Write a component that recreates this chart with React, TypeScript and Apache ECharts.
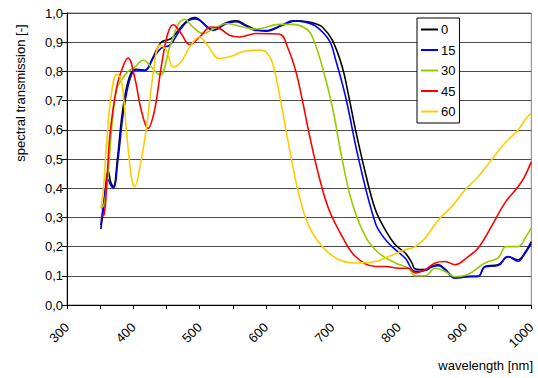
import React, { useEffect, useRef } from "react";
import * as echarts from "echarts";

const xTicks = [300, 400, 500, 600, 700, 800, 900, 1000];
const legendNames = ["0", "15", "30", "45", "60"];
const colors = ["#000000", "#0000FF", "#99CC00", "#FF0000", "#FFCC00"];

const s0: number[][] = [
  [351, 0.26], [355, 0.33], [358, 0.40], [362, 0.46], [366, 0.42], [370, 0.405], [376, 0.5], [384, 0.667],
  [394, 0.78], [404, 0.807], [417, 0.804], [430, 0.85], [442, 0.9], [457, 0.912], [470, 0.947], [482, 0.975],
  [492, 0.984], [498, 0.98], [512, 0.952], [520, 0.943], [539, 0.966], [555, 0.973], [570, 0.958], [585, 0.943],
  [600, 0.938], [625, 0.958], [645, 0.973], [665, 0.969], [675, 0.963], [685, 0.952], [700, 0.907], [715, 0.815],
  [725, 0.713], [735, 0.6], [750, 0.451], [765, 0.326], [780, 0.257], [795, 0.206], [810, 0.178], [820, 0.144],
  [825, 0.123], [840, 0.121], [850, 0.132], [860, 0.138], [870, 0.123], [880, 0.1], [885, 0.095], [905, 0.098],
  [920, 0.098], [930, 0.132], [950, 0.138], [965, 0.166], [980, 0.155], [990, 0.178], [1000, 0.217],
];
const s15: number[][] = [
  [351, 0.274], [356, 0.36], [362, 0.43], [366, 0.41], [370, 0.4], [377, 0.5], [385, 0.66], [395, 0.775],
  [404, 0.805], [417, 0.803], [430, 0.845], [442, 0.88], [455, 0.89], [470, 0.94], [482, 0.972], [492, 0.98],
  [500, 0.975], [512, 0.95], [520, 0.94], [540, 0.963], [555, 0.97], [570, 0.955], [585, 0.94], [600, 0.94],
  [625, 0.96], [640, 0.973], [660, 0.968], [675, 0.955], [695, 0.907], [705, 0.84], [720, 0.713], [740, 0.497],
  [765, 0.28], [778, 0.23], [790, 0.2], [810, 0.16], [825, 0.115], [840, 0.118], [850, 0.13], [860, 0.135],
  [870, 0.12], [885, 0.092], [905, 0.097], [920, 0.098], [930, 0.13], [950, 0.135], [965, 0.165], [980, 0.15],
  [990, 0.175], [1000, 0.21],
];
const s30: number[][] = [
  [351, 0.331], [356, 0.345], [362, 0.45], [368, 0.62], [375, 0.74], [382, 0.77], [392, 0.8], [400, 0.81],
  [415, 0.838], [427, 0.815], [440, 0.787], [455, 0.884], [467, 0.958], [477, 0.978], [490, 0.952], [505, 0.93],
  [522, 0.947], [540, 0.964], [565, 0.952], [585, 0.945], [620, 0.961], [640, 0.961], [660, 0.947], [670, 0.918],
  [685, 0.815], [700, 0.679], [715, 0.497], [730, 0.349], [750, 0.234], [770, 0.178], [795, 0.144], [815, 0.126],
  [825, 0.1], [840, 0.1], [855, 0.126], [870, 0.115], [885, 0.097], [905, 0.105], [930, 0.144], [950, 0.161],
  [962, 0.2], [980, 0.2], [992, 0.234], [1000, 0.264],
];
const s45: number[][] = [
  [351, 0.303], [356, 0.31], [360, 0.42], [365, 0.588], [375, 0.747], [385, 0.82], [392, 0.846], [402, 0.78],
  [412, 0.667], [422, 0.605], [432, 0.667], [442, 0.815], [452, 0.93], [460, 0.96], [472, 0.93], [485, 0.892],
  [500, 0.918], [517, 0.952], [527, 0.95], [545, 0.924], [560, 0.918], [585, 0.93], [620, 0.928], [633, 0.88],
  [645, 0.8], [655, 0.7], [665, 0.588], [680, 0.44], [695, 0.326], [715, 0.234], [735, 0.166], [765, 0.132],
  [780, 0.132], [800, 0.126], [815, 0.126], [825, 0.11], [840, 0.121], [855, 0.144], [870, 0.149], [885, 0.138],
  [905, 0.166], [920, 0.195], [940, 0.269], [960, 0.349], [980, 0.405], [990, 0.44], [1000, 0.49],
];
const s60: number[][] = [
  [351, 0.332], [355, 0.4], [360, 0.565], [367, 0.724], [375, 0.79], [382, 0.77], [390, 0.588], [397, 0.44],
  [402, 0.405], [410, 0.474], [420, 0.61], [430, 0.793], [440, 0.89], [450, 0.873], [460, 0.815], [472, 0.833],
  [485, 0.884], [500, 0.918], [510, 0.895], [530, 0.844], [545, 0.85], [565, 0.867], [590, 0.873], [600, 0.867],
  [610, 0.827], [622, 0.7], [635, 0.54], [650, 0.375], [665, 0.269], [685, 0.2], [710, 0.155], [735, 0.144],
  [765, 0.149], [785, 0.166], [810, 0.189], [825, 0.2], [840, 0.229], [860, 0.292], [880, 0.337], [900, 0.394],
  [920, 0.44], [940, 0.497], [960, 0.554], [980, 0.599], [992, 0.639], [1000, 0.656],
];
const seriesData = [s0, s15, s30, s45, s60];

const FONT = "Liberation Sans, Arial, sans-serif";

export default function App() {
  const ref = useRef<HTMLDivElement>(null);
  useEffect(() => {
    if (!ref.current) return;
    const chart = echarts.init(ref.current, undefined, { renderer: "svg" });
    chart.setOption({
      animation: false,
      backgroundColor: "#ffffff",
      textStyle: { fontFamily: FONT },
      grid: { left: 67, right: 5, top: 13, bottom: 73, show: true, borderColor: "#808080", borderWidth: 1 },
      legend: {
        data: legendNames,
        orient: "vertical",
        left: 417,
        top: 18,
        width: 44,
        padding: [5, 4, 5, 4],
        itemGap: 7.5,
        itemWidth: 17,
        itemHeight: 2,
        icon: "rect",
        borderColor: "#000000",
        borderWidth: 1,
        backgroundColor: "#ffffff",
        textStyle: { fontSize: 13, color: "#000", fontFamily: FONT, padding: [0, 0, 0, -2] },
      },
      xAxis: {
        type: "value",
        min: 300,
        max: 1000,
        interval: 50,
        axisLine: { show: true, onZero: false, lineStyle: { color: "#000", width: 1 } },
        axisTick: { show: true, length: 4, lineStyle: { color: "#000" } },
        splitLine: { show: false },
        axisLabel: {
          rotate: 45,
          margin: 20,
          fontSize: 13,
          color: "#000",
          fontFamily: FONT,
          formatter: (v: number) => (xTicks.includes(v) ? String(v) : ""),
        },
      },
      yAxis: {
        type: "value",
        min: 0,
        max: 1,
        interval: 0.1,
        axisLine: { show: true, lineStyle: { color: "#000", width: 1 } },
        axisTick: { show: true, length: 5, lineStyle: { color: "#000" } },
        splitLine: { show: true, lineStyle: { color: "#4d4d4d", width: 1 } },
        axisLabel: {
          margin: 4,
          fontSize: 13,
          color: "#000",
          fontFamily: FONT,
          formatter: (v: number) => v.toFixed(1).replace(".", ","),
        },
      },
      graphic: [
        {
          type: "text",
          x: 14,
          y: 93,
          rotation: Math.PI / 2,
          style: {
            text: "spectral transmission [-]",
            fontSize: 13,
            fontFamily: FONT,
            fill: "#000",
            align: "center",
            verticalAlign: "top",
          },
        },
        {
          type: "text",
          x: 533,
          y: 365,
          style: {
            text: "wavelength [nm]",
            fontSize: 13,
            fontFamily: FONT,
            fill: "#000",
            align: "right",
            verticalAlign: "middle",
          },
        },
      ],
      series: seriesData.map((d, i) => ({
        name: legendNames[i],
        type: "line",
        data: d,
        smooth: 0.4,
        showSymbol: false,
        symbol: "none",
        color: colors[i],
        lineStyle: { color: colors[i], width: 1.6 },
        z: 2 + i,
      })),
    });
    return () => chart.dispose();
  }, []);
  return <div ref={ref} style={{ width: 538, height: 378, position: "absolute", left: 0, top: 0 }} />;
}
